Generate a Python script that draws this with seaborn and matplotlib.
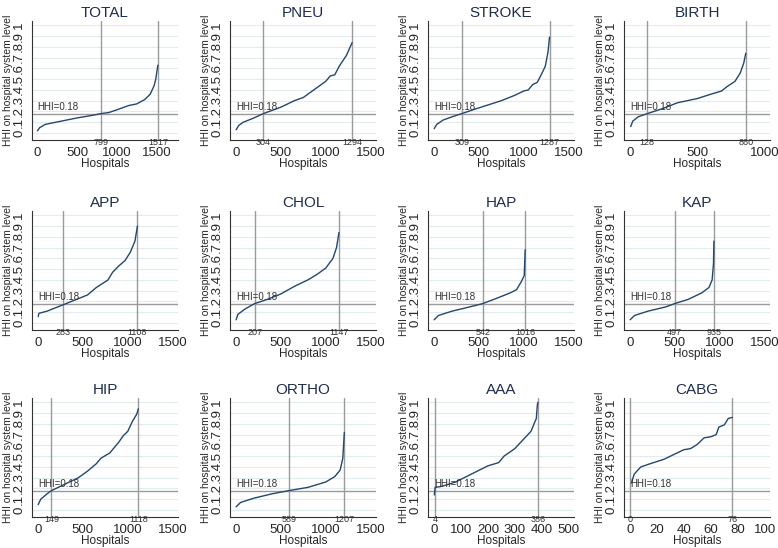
import matplotlib
matplotlib.use("Agg")
import matplotlib.pyplot as plt
import seaborn as sns
import numpy as np
import pandas as pd

# ---- data (sorted HHI per hospital, knot points) ----
panels = ["TOTAL", "PNEU", "STROKE", "BIRTH", "APP", "CHOL", "HAP", "KAP",
          "HIP", "ORTHO", "AAA", "CABG"]

total_x = [1, 30, 100, 300, 500, 700, 799, 900, 1000, 1150, 1250, 1350, 1420, 1470, 1490, 1517]
total_y = [0.02, 0.05, 0.08, 0.11, 0.14, 0.165, 0.18, 0.19, 0.215, 0.255, 0.27, 0.31, 0.36, 0.44, 0.5, 0.63]
pneu_x = [1, 30, 80, 200, 304, 500, 650, 750, 900, 1000, 1050, 1100, 1150, 1230, 1294]
pneu_y = [0.03, 0.07, 0.10, 0.14, 0.18, 0.24, 0.30, 0.33, 0.42, 0.48, 0.53, 0.54, 0.62, 0.72, 0.84]
stroke_x = [1, 30, 100, 200, 309, 450, 600, 750, 900, 1000, 1050, 1100, 1150, 1200, 1240, 1270, 1287]
stroke_y = [0.04, 0.08, 0.12, 0.15, 0.18, 0.22, 0.26, 0.30, 0.35, 0.39, 0.40, 0.45, 0.47, 0.55, 0.62, 0.75, 0.89]
birth_x = [5, 20, 60, 128, 250, 350, 500, 600, 680, 720, 780, 820, 845, 860]
birth_y = [0.06, 0.11, 0.15, 0.18, 0.23, 0.28, 0.32, 0.36, 0.39, 0.43, 0.48, 0.56, 0.65, 0.74]
app_x = [1, 10, 100, 283, 400, 550, 650, 780, 830, 900, 970, 1030, 1080, 1108]
app_y = [0.06, 0.09, 0.11, 0.17, 0.21, 0.26, 0.33, 0.40, 0.47, 0.53, 0.58, 0.66, 0.76, 0.90]
chol_x = [1, 20, 100, 207, 350, 500, 650, 800, 900, 1000, 1080, 1120, 1147]
chol_y = [0.03, 0.08, 0.13, 0.18, 0.22, 0.27, 0.34, 0.40, 0.45, 0.51, 0.60, 0.70, 0.84]
hap_x = [1, 50, 200, 400, 542, 700, 850, 920, 970, 1005, 1016]
hap_y = [0.03, 0.07, 0.11, 0.15, 0.18, 0.23, 0.28, 0.31, 0.38, 0.44, 0.68]
kap_x = [1, 50, 200, 400, 497, 650, 800, 880, 915, 930, 935]
kap_y = [0.03, 0.07, 0.11, 0.15, 0.18, 0.22, 0.28, 0.33, 0.40, 0.55, 0.76]
hip_x = [1, 30, 100, 149, 300, 450, 550, 650, 700, 800, 900, 950, 1000, 1050, 1100, 1118]
hip_y = [0.05, 0.10, 0.15, 0.18, 0.24, 0.30, 0.36, 0.43, 0.48, 0.53, 0.63, 0.69, 0.73, 0.82, 0.89, 0.94]
ortho_x = [1, 50, 200, 400, 589, 800, 1000, 1100, 1160, 1190, 1207]
ortho_y = [0.03, 0.07, 0.11, 0.15, 0.18, 0.21, 0.26, 0.31, 0.37, 0.48, 0.72]
aaa_x = [1, 4, 30, 80, 120, 200, 240, 260, 300, 330, 360, 380, 384, 386]
aaa_y = [0.14, 0.21, 0.22, 0.26, 0.31, 0.41, 0.44, 0.50, 0.57, 0.65, 0.73, 0.85, 0.98, 1.0]
cabg_x = [1, 3, 5, 8, 15, 25, 30, 40, 45, 50, 55, 60, 64, 66, 70, 73, 76]
cabg_y = [0.25, 0.33, 0.36, 0.40, 0.43, 0.47, 0.50, 0.56, 0.57, 0.61, 0.67, 0.68, 0.70, 0.77, 0.79, 0.85, 0.86]

curves_x = [total_x, pneu_x, stroke_x, birth_x, app_x, chol_x, hap_x, kap_x,
            hip_x, ortho_x, aaa_x, cabg_x]
curves_y = [total_y, pneu_y, stroke_y, birth_y, app_y, chol_y, hap_y, kap_y,
            hip_y, ortho_y, aaa_y, cabg_y]

# vertical reference lines: where HHI crosses 0.18, and number of hospitals
cut_at = [799, 304, 309, 128, 283, 207, 542, 497, 149, 589, 4, 0]
n_hosp = [1517, 1294, 1287, 860, 1108, 1147, 1016, 935, 1118, 1207, 386, 76]
x_ticks = [[0, 500, 1000, 1500]] * 3 + [[0, 500, 1000]] + [[0, 500, 1000, 1500]] * 6 + \
          [[0, 100, 200, 300, 400, 500], [0, 20, 40, 60, 80, 100]]
hhi_cut = 0.18
y_ticks = [i / 10 for i in range(11)]
y_labels = ["0"] + ["." + str(i) for i in range(1, 10)] + ["1"]

# ---- style ----
sns.set_style("white")
plt.rcParams['font.family'] = ['Liberation Sans', 'DejaVu Sans']

navy = "#24476b"
title_c = "#1f2d4e"
grey = "#9a9a9a"
grid_c = "#e2ebee"
txt_c = "#333333"

W, H = 778, 548
fig = plt.figure(figsize=(W / 100, H / 100), dpi=100)

col_left = [32, 230, 428, 624]
row_bottom = [140, 330, 517]
ax_w, ax_h = 146, 119

for i, name in enumerate(panels):
    r, c = divmod(i, 4)
    ax = fig.add_axes([col_left[c] / W, 1 - row_bottom[r] / H, ax_w / W, ax_h / H])
    m = x_ticks[i][-1]
    if name == "TOTAL":
        ax.set_xlim(-67, 1770)
    else:
        ax.set_xlim(-0.045 * m, 1.04 * m)
    ax.set_ylim(-0.065, 1.04)

    for yv in y_ticks:
        ax.axhline(yv, color=grid_c, lw=0.8, zorder=0)

    df = pd.DataFrame({"x": curves_x[i], "y": curves_y[i]})
    sns.lineplot(data=df, x="x", y="y", ax=ax, color=navy, lw=1.0, zorder=3)

    ax.axvline(cut_at[i], color=grey, lw=1.0, zorder=2)
    ax.axvline(n_hosp[i], color=grey, lw=1.0, zorder=2)
    ax.axhline(hhi_cut, color=grey, lw=1.0, zorder=2)

    ax.text(0, hhi_cut + 0.015, "HHI=0.18", fontsize=7, color=txt_c,
            ha="left", va="bottom", zorder=4)
    for xv in (cut_at[i], n_hosp[i]):
        ax.text(xv, -0.09, str(xv), fontsize=6.5, color=txt_c,
                ha="center", va="center", zorder=4)

    ax.set_xticks(x_ticks[i])
    ax.set_xticklabels([str(t) for t in x_ticks[i]], fontsize=9.5)
    ax.set_yticks(y_ticks)
    ax.set_yticklabels(y_labels, fontsize=9.5, rotation=90, va="center")
    ax.tick_params(axis="both", direction="out", length=3.5, width=0.8,
                   color=txt_c, pad=1.5)

    for s in ("top", "right"):
        ax.spines[s].set_visible(False)
    for s in ("left", "bottom"):
        ax.spines[s].set_color(txt_c)
        ax.spines[s].set_linewidth(0.8)

    ax.set_title(name, fontsize=11, color=title_c, pad=3)
    ax.set_xlabel("Hospitals", fontsize=8.5, labelpad=-1)
    ax.set_ylabel("HHI on hospital system level", fontsize=7.5, labelpad=0)

fig.savefig("out.png", dpi=100, facecolor="white")
